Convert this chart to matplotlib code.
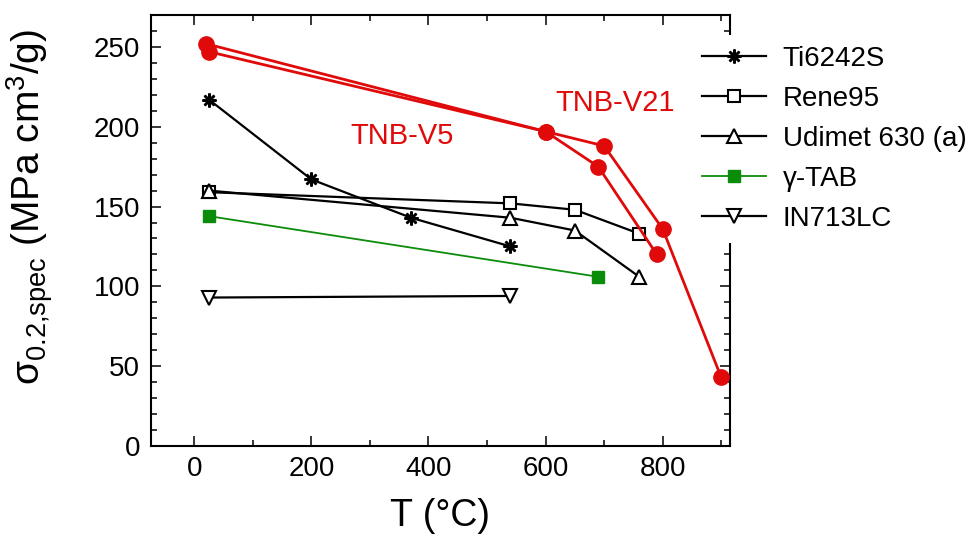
import matplotlib
matplotlib.use("Agg")
import matplotlib.pyplot as plt
from matplotlib.ticker import MultipleLocator

plt.rcParams['font.family'] = ['Liberation Sans', 'DejaVu Sans']
plt.rcParams['mathtext.fontset'] = 'custom'
plt.rcParams['mathtext.rm'] = 'Liberation Sans'
plt.rcParams['mathtext.it'] = 'Liberation Sans:italic'
plt.rcParams['mathtext.bf'] = 'Liberation Sans:bold'

# Data (T in °C, specific yield strength in MPa cm^3/g)
ti_T = [25, 200, 370, 540]
ti_s = [217, 167, 143, 125]
rene_T = [25, 540, 650, 760]
rene_s = [159, 152, 148, 133]
udi_T = [25, 540, 650, 760]
udi_s = [160, 143, 135, 106]
tab_T = [25, 690]
tab_s = [144, 106]
in_T = [25, 540]
in_s = [93, 94]
v21_T = [20, 600, 700, 800, 900]
v21_s = [252, 197, 188, 136, 43]
v5_T = [25, 600, 690, 790]
v5_s = [247, 197, 175, 120]

red = '#e00a0a'
green = '#0b8c0b'

fig = plt.figure(figsize=(9.8, 5.4), dpi=100)
ax = fig.add_axes([151/980, 1-446/540, (730-151)/980, (446-15)/540])

ax.plot(v21_T, v21_s, '-o', color=red, lw=2, ms=11, zorder=3)
ax.plot(v5_T, v5_s, '-o', color=red, lw=2, ms=11, zorder=3)

l1, = ax.plot(ti_T, ti_s, '-', color='black', lw=1.6, marker=(8, 2, 0), ms=10, mew=1.8,
              label='Ti6242S')
l2, = ax.plot(rene_T, rene_s, '-s', color='black', lw=1.6, ms=9, mfc='white', mec='black', mew=1.5,
              label='Rene95')
l3, = ax.plot(udi_T, udi_s, '-^', color='black', lw=1.6, ms=10, mfc='white', mec='black', mew=1.5,
              label='Udimet 630 (a)')
l4, = ax.plot(tab_T, tab_s, '-s', color=green, lw=1.3, ms=9, mfc=green, mec=green,
              label='γ-TAB')
l5, = ax.plot(in_T, in_s, '-v', color='black', lw=1.6, ms=10, mfc='white', mec='black', mew=1.5,
              label='IN713LC')

ax.text(355, 194.5, 'TNB-V5', color=red, fontsize=21, ha='center', va='center')
ax.text(719, 214.6, 'TNB-V21', color=red, fontsize=21, ha='center', va='center')

ax.set_xlim(-74, 915)
ax.set_ylim(0, 270)
ax.xaxis.set_major_locator(MultipleLocator(200))
ax.xaxis.set_minor_locator(MultipleLocator(100))
ax.yaxis.set_major_locator(MultipleLocator(50))
ax.yaxis.set_minor_locator(MultipleLocator(10))
ax.tick_params(which='both', direction='in', top=True, right=True, labelsize=20, width=1.1)
ax.tick_params(which='major', length=7.5)
ax.tick_params(which='minor', length=4.5)
ax.tick_params(axis='y', pad=8)
ax.tick_params(axis='x', pad=7)
for s in ax.spines.values():
    s.set_linewidth(1.5)

ax.set_xlabel('T (°C)', fontsize=27, labelpad=12)
ax.set_ylabel(r'$\mathrm{σ}_{0.2{,}\mathrm{spec}}$ (MPa cm$^3$/g)', fontsize=28)
ax.yaxis.set_label_coords(-0.165, 0.555)

leg = fig.legend(handles=[l1, l2, l3, l4, l5], loc='upper left',
                 bbox_to_anchor=(691/980, 1-35/540), fontsize=20,
                 frameon=True, facecolor='white', edgecolor='white', framealpha=1,
                 handlelength=2.3, handletextpad=0.6, labelspacing=0.5,
                 borderpad=0.4, borderaxespad=0)
leg.get_frame().set_linewidth(0)

fig.savefig('out.png', dpi=100)
